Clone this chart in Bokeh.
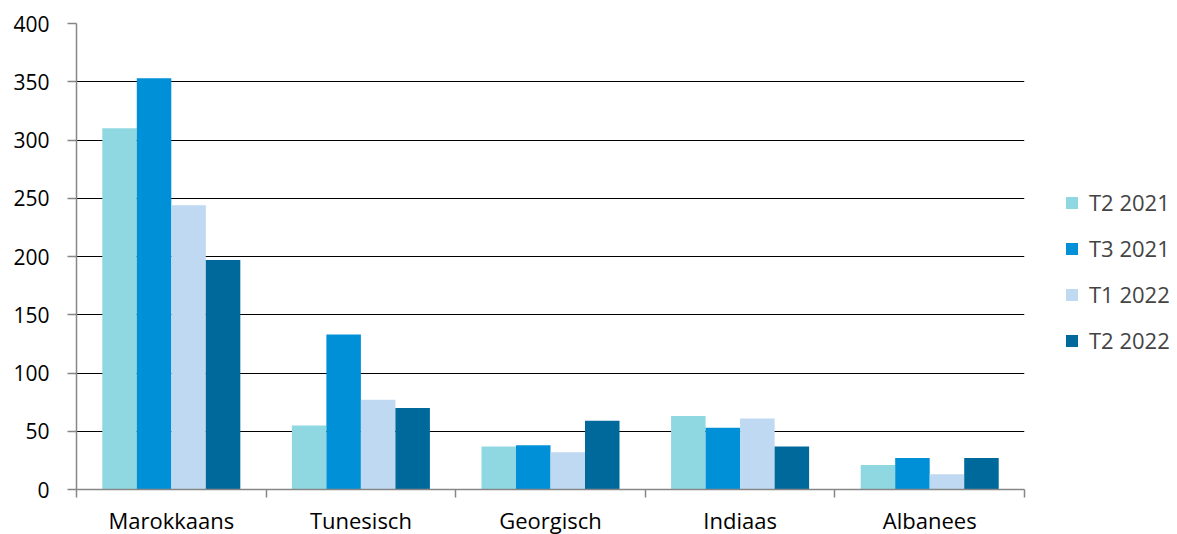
from bokeh.plotting import figure
from bokeh.models import (ColumnDataSource, Range1d, FixedTicker, CustomJSTickFormatter,
                          Legend, LegendItem, SingleIntervalTicker)
from bokeh.embed import file_html
from bokeh.resources import INLINE

categories = ["Marokkaans", "Tunesisch", "Georgisch", "Indiaas", "Albanees"]
series_names = ["T2 2021", "T3 2021", "T1 2022", "T2 2022"]
t2_2021 = [310, 55, 37, 63, 21]
t3_2021 = [353, 133, 38, 53, 27]
t1_2022 = [244, 77, 32, 61, 13]
t2_2022 = [197, 70, 59, 37, 27]
colors = ["#8fd8e1", "#0090d8", "#bed9f1", "#00699c"]

FONT = "Open Sans"
n = len(categories)
bar_w = 0.182
series = [t2_2021, t3_2021, t1_2022, t2_2022]

p = figure(frame_width=948, frame_height=466, output_backend="svg", toolbar_location=None,
           x_range=Range1d(0, n), y_range=Range1d(0, 400),
           min_border_left=76, min_border_top=23, min_border_right=150, min_border_bottom=0)
p.outline_line_color = None
p.background_fill_color = "white"
p.border_fill_color = "white"

items = []
for k, (name, vals, col) in enumerate(zip(series_names, series, colors)):
    xs = [i + 0.5 + (k - 1.5) * bar_w for i in range(n)]
    src = ColumnDataSource(dict(x=xs, top=vals))
    r = p.vbar(x="x", top="top", bottom=0, width=bar_w, source=src,
               fill_color=col, line_color=None)
    items.append(LegendItem(label=name, renderers=[r]))

# grid
p.xgrid.grid_line_color = None
p.ygrid.grid_line_color = "black"
p.ygrid.grid_line_width = 1.2
p.yaxis.ticker = SingleIntervalTicker(interval=50)

# y axis
p.yaxis.axis_line_color = "#868686"
p.yaxis.axis_line_width = 1.5
p.yaxis.major_tick_line_color = "#868686"
p.yaxis.major_tick_line_width = 1.5
p.yaxis.major_tick_out = 9
p.yaxis.major_tick_in = 0
p.yaxis.minor_tick_line_color = None
p.yaxis.major_label_text_font = FONT
p.yaxis.major_label_text_font_size = "21px"
p.yaxis.major_label_text_color = "black"
p.yaxis.major_label_standoff = 18

# x axis: labels at centers, ticks at boundaries
p.xaxis.ticker = FixedTicker(ticks=[i + 0.5 for i in range(n)],
                             minor_ticks=list(range(n + 1)))
p.xaxis.formatter = CustomJSTickFormatter(args=dict(labels=categories),
                                          code="return labels[Math.floor(tick)];")
p.xaxis.axis_line_color = "#868686"
p.xaxis.axis_line_width = 1.5
p.xaxis.major_tick_line_color = None
p.xaxis.major_tick_out = 0
p.xaxis.major_tick_in = 0
p.xaxis.minor_tick_line_color = "#868686"
p.xaxis.minor_tick_line_width = 1.5
p.xaxis.minor_tick_out = 8
p.xaxis.minor_tick_in = 0
p.xaxis.major_label_text_font = FONT
p.xaxis.major_label_text_font_size = "22px"
p.xaxis.major_label_text_color = "black"
p.xaxis.major_label_standoff = 7

legend = Legend(items=items, location=(40, 134), border_line_color=None,
                background_fill_alpha=0, glyph_width=15, glyph_height=15,
                label_text_font=FONT, label_text_font_size="22px",
                label_standoff=10, spacing=16, padding=0, margin=0)
p.add_layout(legend, "right")

open("out.html", "w").write(file_html(p, INLINE))
